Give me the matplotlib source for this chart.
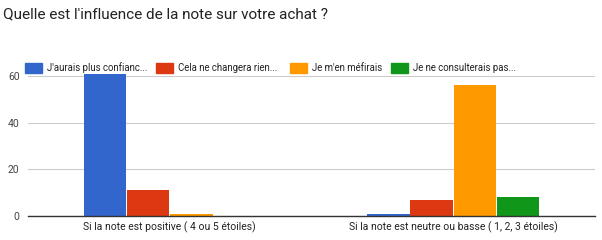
import numpy as np
import matplotlib
matplotlib.use('Agg')
from matplotlib import pyplot as plt
from matplotlib.patches import Rectangle

plt.rcParams['font.family'] = ['Roboto', 'DejaVu Sans']

title = "Quelle est l'influence de la note sur votre achat ?"
categories = ['Si la note est positive ( 4 ou 5 étoiles)',
              'Si la note est neutre ou basse ( 1, 2, 3 étoiles)']
series = ["J'aurais plus confianc...", 'Cela ne changera rien...',
          "Je m'en méfirais", 'Je ne consulterais pas...']
values = [
    [61, 1],
    [11, 7],
    [1, 56],
    [0, 8],
]
colors = ['#3366cc', '#dc3912', '#ff9900', '#109618']
yticks = [0, 20, 40, 60]

W, H = 602, 240
fig = plt.figure(figsize=(W / 100, H / 100), dpi=100)
ax = fig.add_axes([28 / W, 1 - 216 / H, 567 / W, (216 - 73.5) / H])

x = np.arange(len(categories))
bw = 0.152
for i, (vals, c) in enumerate(zip(values, colors)):
    off = (i - 1.5) * bw
    ax.bar(x + off, vals, width=bw * 0.985, color=c, linewidth=0, zorder=3)

ax.set_xlim(-0.5, 1.5)
ax.set_ylim(0, 61)
ax.set_yticks(yticks)
ax.set_yticklabels([str(t) for t in yticks], fontsize=7.5, color='#444444')
ax.set_xticks(x)
ax.set_xticklabels(categories, fontsize=7.5, color='#222222')
ax.tick_params(length=0, pad=4)
ax.tick_params(axis='y', pad=6)
ax.grid(axis='y', color='#cccccc', linewidth=0.8, zorder=0)
for s in ['top', 'right', 'left']:
    ax.spines[s].set_visible(False)
ax.spines['bottom'].set_color('#333333')
ax.spines['bottom'].set_linewidth(1.0)
ax.spines['bottom'].set_zorder(4)

fig.text(3 / W, 1 - 14 / H, title, fontsize=11, color='#222222', va='center', ha='left')

# legend, laid out by hand like google charts
leg_x = [25, 156, 290, 391]
leg_y = 1 - 68 / H
for lx, lab, c in zip(leg_x, series, colors):
    fig.patches.append(Rectangle((lx / W, leg_y - 5 / H), 17 / W, 10 / H,
                                 transform=fig.transFigure, color=c, figure=fig))
    fig.text((lx + 22) / W, leg_y, lab, fontsize=6.9, color='#222222', va='center', ha='left')

plt.savefig('out.png', dpi=100)
